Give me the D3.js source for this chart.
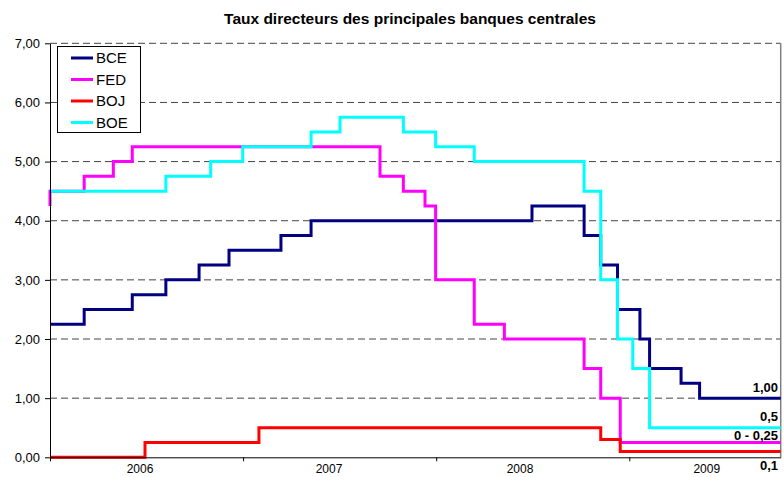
<!DOCTYPE html>
<html>
<head>
<meta charset="utf-8">
<script src="https://cdn.jsdelivr.net/npm/d3@7"></script>
<style>
body { margin: 0; background: #fff; }
text { font-family: "Liberation Sans", Arial, sans-serif; }
</style>
</head>
<body>
<script>
const width = 784;
const height = 477;

// step data: [position on axis, rate]; positions
const bce = [[2006, 2.25], [2006.177, 2.5], [2006.426, 2.75], [2006.600, 3.0], [2006.772, 3.25],
  [2006.927, 3.5], [2007.196, 3.75], [2007.352, 4.0], [2008.496, 4.25], [2008.766, 3.75],
  [2008.852, 3.25], [2008.939, 2.5], [2009.055, 2.0], [2009.105, 1.5], [2009.268, 1.25], [2009.364, 1.0]];
const fed = [[2006, 4.25], [2006, 4.5], [2006.177, 4.75], [2006.328, 5.0], [2006.426, 5.25],
  [2007.709, 4.75], [2007.830, 4.5], [2007.942, 4.25], [2007.997, 3.0], [2008.197, 2.25],
  [2008.353, 2.0], [2008.766, 1.5], [2008.852, 1.0], [2008.953, 0.25]];
const boj = [[2006, 0], [2006.492, 0.25], [2007.082, 0.5], [2008.852, 0.3], [2008.953, 0.1]];
const boe = [[2006, 4.5], [2006.600, 4.75], [2006.832, 5.0], [2006.998, 5.25], [2007.352, 5.5],
  [2007.502, 5.75], [2007.830, 5.5], [2007.997, 5.25], [2008.197, 5.0], [2008.766, 4.5],
  [2008.852, 3.0], [2008.939, 2.0], [2009.018, 1.5], [2009.105, 0.5]];

const seriesNames = ['BCE', 'FED', 'BOJ', 'BOE'];
const seriesColors = ['#000080', '#ff00ff', '#ff0000', '#00ffff'];
const seriesData = [bce, fed, boj, boe];

const yTicks = [0, 1, 2, 3, 4, 5, 6, 7];
const yearTicks = [2006, 2007, 2008, 2009];
const yearLabels = ['2006', '2007', '2008', '2009'];
const yearLabelPos = [2006.466, 2007.445, 2008.434, 2009.401];
const endStart = 2006, endStop = 2009.784;

const endLabels = ['1,00', '0,5', '0 - 0,25', '0,1'];
const endValues = [1.0, 0.5, 0.25, 0.1];
const endOffsets = [-6.5, -7, -2.5, 18.5];

const plotL = 50, plotR = 780.7, plotT = 43.3, plotB = 457.3;

const svg = d3.select('body').append('svg')
  .attr('width', width)
  .attr('height', height);

const x = d3.scaleLinear().domain([endStart, endStop]).range([plotL, plotR]);
const y = d3.scaleLinear().domain([0, 7]).range([plotB, plotT]);

// title
svg.append('text')
  .attr('x', 410).attr('y', 24)
  .attr('text-anchor', 'middle')
  .attr('font-size', 15.5).attr('font-weight', 'bold')
  .text('Taux directeurs des principales banques centrales');

// gridlines
svg.append('g')
  .selectAll('line')
  .data(yTicks.filter(d => d > 0))
  .join('line')
  .attr('x1', plotL).attr('x2', plotR)
  .attr('y1', d => y(d)).attr('y2', d => y(d))
  .attr('stroke', '#444')
  .attr('stroke-width', 1)
  .attr('stroke-dasharray', '7,4');

// right border
svg.append('line')
  .attr('x1', plotR).attr('x2', plotR)
  .attr('y1', plotT).attr('y2', plotB)
  .attr('stroke', '#808080').attr('stroke-width', 1.5);

// series
const line = d3.line()
  .x(d => x(d[0]))
  .y(d => y(d[1]))
  .curve(d3.curveStepAfter);

seriesData.forEach((data, i) => {
  const pts = data.concat([[endStop, data[data.length - 1][1]]]);
  svg.append('path')
    .datum(pts)
    .attr('d', line)
    .attr('fill', 'none')
    .attr('stroke', seriesColors[i])
    .attr('stroke-width', 3);
});

// y axis
const yAxis = svg.append('g')
  .attr('transform', `translate(${plotL},0)`)
  .call(d3.axisLeft(y).tickValues(yTicks).tickSize(5).tickSizeOuter(0)
    .tickFormat(d => d3.format('.2f')(d).replace('.', ',')));
yAxis.selectAll('text').attr('font-size', 13).attr('fill', '#000').attr('x', -10);
yAxis.selectAll('line, path').attr('stroke', '#000');

// x axis
const xAxis = svg.append('g')
  .attr('transform', `translate(0,${plotB})`)
  .call(d3.axisBottom(x).tickValues(yearTicks).tickSize(4).tickSizeOuter(0).tickFormat(''));
xAxis.selectAll('line, path').attr('stroke', '#000');

svg.append('g')
  .selectAll('text')
  .data(yearLabels)
  .join('text')
  .attr('x', (d, i) => x(yearLabelPos[i]))
  .attr('y', 473)
  .attr('text-anchor', 'middle')
  .attr('font-size', 12)
  .text(d => d);

// end labels
svg.append('g')
  .selectAll('text')
  .data(endLabels)
  .join('text')
  .attr('x', 778)
  .attr('y', (d, i) => y(endValues[i]) + endOffsets[i])
  .attr('text-anchor', 'end')
  .attr('font-size', 13)
  .attr('font-weight', 'bold')
  .text(d => d);

// legend
const legend = svg.append('g');
legend.append('rect')
  .attr('x', 57.5).attr('y', 46.5)
  .attr('width', 83).attr('height', 86)
  .attr('fill', '#fff').attr('stroke', '#000');

const rows = legend.selectAll('g.row')
  .data(seriesNames)
  .join('g')
  .attr('class', 'row')
  .attr('transform', (d, i) => `translate(0,${58 + i * 21.5})`);
rows.append('line')
  .attr('x1', 71).attr('x2', 93)
  .attr('stroke', (d, i) => seriesColors[i])
  .attr('stroke-width', 3);
rows.append('text')
  .attr('x', 96)
  .attr('dy', '0.35em')
  .attr('font-size', 15)
  .text(d => d);
</script>
</body>
</html>
